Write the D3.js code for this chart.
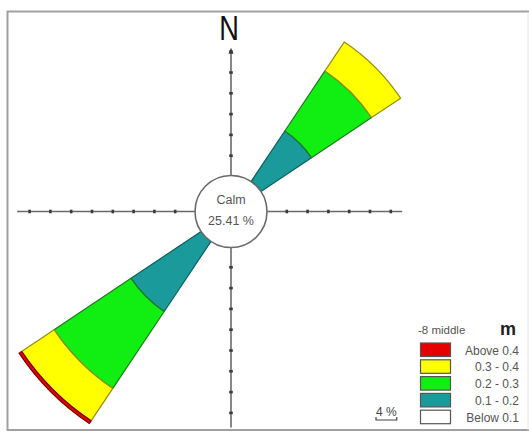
<!DOCTYPE html>
<html>
<head>
<meta charset="utf-8">
<script src="https://cdn.jsdelivr.net/npm/d3@7"></script>
<style>
html,body{margin:0;padding:0;background:#fff;}
svg{display:block;}
text{font-family:"Liberation Sans",Arial,sans-serif;}
</style>
</head>
<body>
<svg id="chart" width="529" height="433"></svg>
<script>
// ---- data ----
const bins = ["Below 0.1", "0.1 - 0.2", "0.2 - 0.3", "0.3 - 0.4", "Above 0.4"];
const binColors = ["#ffffff", "#1a9a9a", "#11ee11", "#ffff00", "#e60000"];
const binStrokes = ["#555555", "#0d5e5e", "#1f7a1f", "#9a8a10", "#7a0000"];
const directions = ["NE", "SW"];
const bearings = [45, 225];
const neValues = [0, 11.7, 13.9, 6.7, 0];
const swValues = [0, 16.2, 17.8, 7.5, 0.6];
const calmPct = 25.41;
const axisDirs = ["N", "E", "S", "W"];
const axisExtent = [24.0, 26.0, 34.6, 34.2];
const tickStep = 4;
const legendTitle = "-8 middle";
const legendUnit = "m";
const scaleLabel = "4 %";

// ---- layout ----
const svg = d3.select("#chart");
const cx = 231, cy = 211.5;
const r0 = 36;
const r = d3.scaleLinear().domain([0, 4]).range([r0, r0 + 20.8]);
const sectorHalf = 11.25 * Math.PI / 180;

// frame
svg.append("rect").attr("x", 7.5).attr("y", 11.5).attr("width", 540).attr("height", 418.5)
  .attr("fill", "#fff").attr("stroke", "#a0a0a0").attr("stroke-width", 2);
svg.append("line").attr("x1", 528).attr("x2", 528).attr("y1", 12).attr("y2", 430)
  .attr("stroke", "#e4e4e4").attr("stroke-width", 1);

const g = svg.append("g").attr("transform", `translate(${cx},${cy})`);

// axes
const axisAngles = {N: 0, E: 90, S: 180, W: 270};
axisDirs.forEach((d, i) => {
  const a = axisAngles[d] * Math.PI / 180;
  const ux = Math.sin(a), uy = -Math.cos(a);
  const end = r(axisExtent[i]);
  g.append("line").attr("x1", 0).attr("y1", 0).attr("x2", ux * end).attr("y2", uy * end)
    .attr("stroke", "#6a6a6a").attr("stroke-width", 1.6);
  d3.range(tickStep, axisExtent[i] + 0.01, tickStep).forEach(t => {
    const rr = r(t);
    const px = ux * rr, py = uy * rr;
    g.append("line")
      .attr("x1", px - uy * 1.8 - ux * 1).attr("y1", py + ux * 1.8 - uy * 1)
      .attr("x2", px + uy * 1.8 - ux * 1).attr("y2", py - ux * 1.8 - uy * 1)
      .attr("stroke", "#3a3a3a").attr("stroke-width", 2.6);
  });
  if (d === "N") {
    g.append("path")
      .attr("d", `M0,${-end - 3} L-2.5,${-end + 3} L2.5,${-end + 3} Z`)
      .attr("fill", "#3a3a3a");
  }
});

// petals
const arc = d3.arc();
[neValues, swValues].forEach((vals, di) => {
  const b = bearings[di] * Math.PI / 180;
  let cum = 0;
  vals.forEach((v, bi) => {
    if (v <= 0) { return; }
    const inner = r(cum), outer = r(cum + v);
    cum += v;
    g.append("path")
      .attr("d", arc({innerRadius: inner, outerRadius: outer, startAngle: b - sectorHalf, endAngle: b + sectorHalf}))
      .attr("fill", binColors[bi]).attr("stroke", binStrokes[bi]).attr("stroke-width", 1.2)
      .attr("stroke-linejoin", "round");
  });
});

// calm circle
g.append("circle").attr("r", r0).attr("fill", "#fff").attr("stroke", "#6a6a6a").attr("stroke-width", 1.6);
g.append("text").attr("x", 0).attr("y", -8).attr("text-anchor", "middle")
  .attr("font-size", 12.5).attr("fill", "#555").text("Calm");
g.append("text").attr("x", 0).attr("y", 13).attr("text-anchor", "middle")
  .attr("font-size", 12.5).attr("fill", "#555").text(calmPct.toFixed(2) + " %");

// N label
svg.append("text").attr("transform", "translate(229,40) scale(0.8,1.05)")
  .attr("text-anchor", "middle").attr("font-size", 34).attr("fill", "#111").text("N");

// legend
const lg = svg.append("g");
lg.append("text").attr("x", 418).attr("y", 334).attr("font-size", 11.5).attr("fill", "#555").text(legendTitle);
lg.append("text").attr("x", 500).attr("y", 335).attr("font-size", 18).attr("font-weight", "bold")
  .attr("font-family", "Liberation Serif, serif").attr("fill", "#222").text(legendUnit);
const order = bins.slice().reverse();
const orderCols = binColors.slice().reverse();
order.forEach((lab, i) => {
  const y = 343 + i * 16.8;
  lg.append("rect").attr("x", 420.5).attr("y", y).attr("width", 30).attr("height", 13.5)
    .attr("fill", orderCols[i]).attr("stroke", "#555").attr("stroke-width", 1.2);
  lg.append("text").attr("x", 519).attr("y", y + 11.5).attr("text-anchor", "end")
    .attr("font-size", 12).attr("fill", "#555").text(lab);
});

// scale bar
const barLen = r(4) - r(0);
const bx = 376;
svg.append("text").attr("x", bx + barLen / 2).attr("y", 416).attr("text-anchor", "middle")
  .attr("font-size", 12).attr("fill", "#444").text(scaleLabel);
svg.append("path")
  .attr("d", `M${bx},417 L${bx},420 L${bx + barLen},420 L${bx + barLen},417`)
  .attr("fill", "none").attr("stroke", "#444").attr("stroke-width", 1.2);
</script>
</body>
</html>
